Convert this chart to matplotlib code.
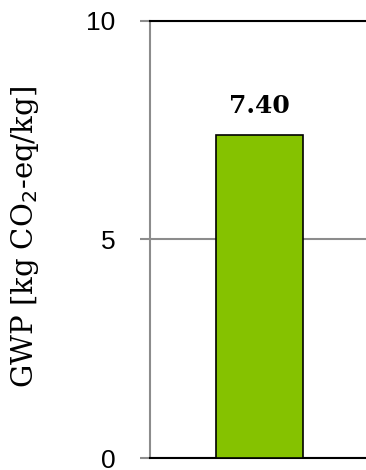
import numpy as np
import matplotlib.pyplot as plt

categories = ["GWP"]
values = [7.40]
yticks = [0, 5, 10]

fig = plt.figure(figsize=(3.66, 4.70), dpi=100)
ax = fig.add_axes([0.41, 0.0255, 0.59, 0.93])

x = np.arange(len(categories))
bars = ax.bar(x, values, width=0.8, color="#85c200", edgecolor="black",
              linewidth=1.2, zorder=3)
for b, v in zip(bars, values):
    ax.text(b.get_x() + b.get_width() / 2, v + 0.38, f"{v:.2f}",
            ha="center", va="bottom", fontsize=18, fontweight="bold",
            family="DejaVu Serif", zorder=4)

ax.set_ylim(0, 10)
ax.set_xlim(-1.007, 0.979)
ax.set_yticks(yticks)
ax.set_yticklabels([str(t) for t in yticks], fontsize=19, family="Liberation Sans")
ax.set_xticks([])
ax.yaxis.grid(True, color="#8c8c8c", linewidth=1.5, zorder=0)
ax.set_axisbelow(True)
ax.tick_params(axis="y", direction="out", length=7, width=1.5, color="#8c8c8c", pad=18)

ax.spines["left"].set_color("#8c8c8c")
ax.spines["left"].set_linewidth(1.5)
ax.spines["right"].set_visible(False)
ax.spines["top"].set_color("black")
ax.spines["top"].set_linewidth(1.5)
ax.spines["bottom"].set_color("black")
ax.spines["bottom"].set_linewidth(1.5)

ax.set_ylabel("GWP [kg CO$_2$-eq/kg]", fontsize=21, family="DejaVu Serif")
ax.yaxis.set_label_coords(-0.505, 0.506)

fig.savefig("out.png", dpi=100)
